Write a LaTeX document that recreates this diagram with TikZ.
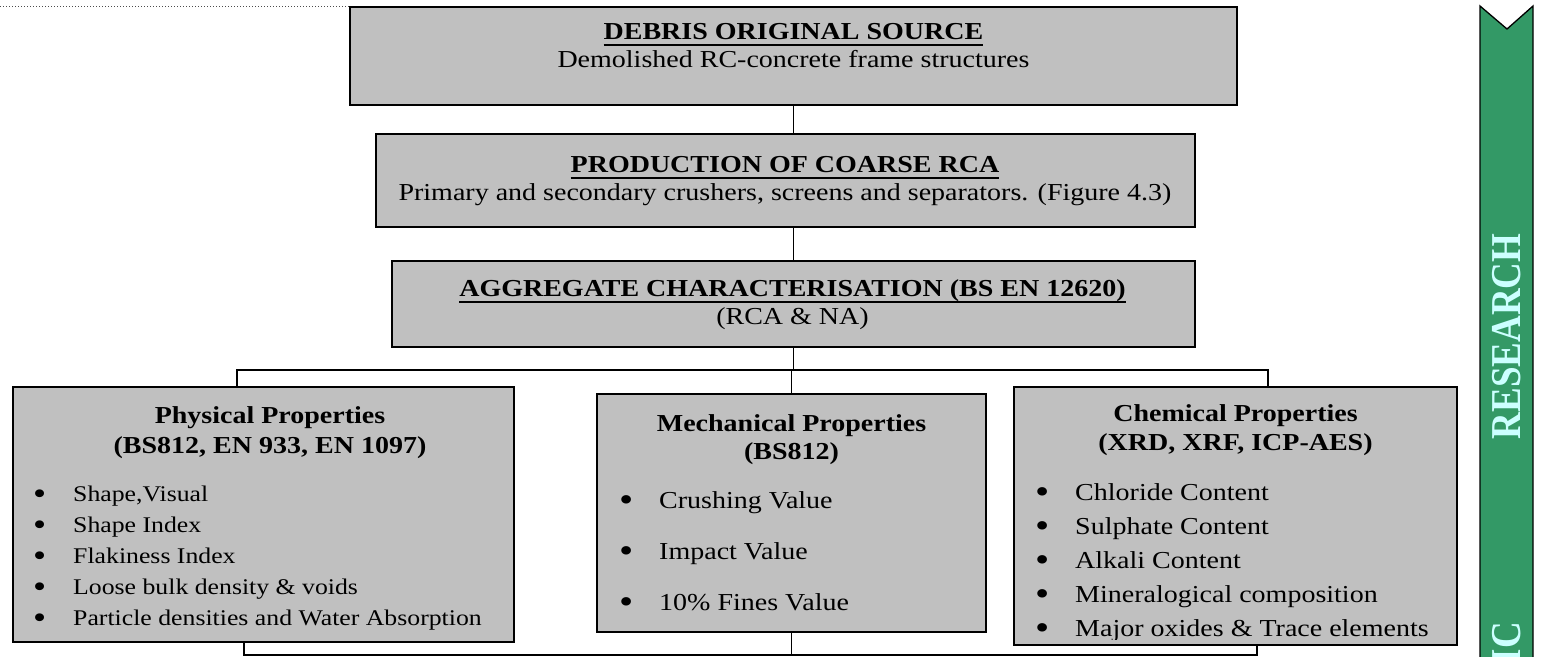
\documentclass[tikz,border=0pt]{standalone}
\usepackage{fontspec}
\setmainfont{Liberation Serif}[FakeStretch=1.15]
\newfontfamily\barfont{Liberation Serif}
\usetikzlibrary{positioning}

\definecolor{boxgray}{HTML}{C0C0C0}
\definecolor{seagreen}{HTML}{339966}
\definecolor{paleaqua}{HTML}{CCFFFF}

\newcommand{\ulbar}[1]{\setbox0\hbox{#1}\rlap{\rule[-7pt]{\wd0}{2pt}}\box0}
\newcommand{\bitem}[1]{\makebox[40pt][l]{\raisebox{-3pt}{\scalebox{1.45}{\textbullet}}}#1}

\begin{document}
\begin{tikzpicture}[x=1pt,y=-1pt,line join=miter]
  \tikzstyle{box}=[rectangle,draw=black,fill=boxgray,line width=1.8pt,inner sep=0pt]
  \tikzstyle{head}=[align=center,inner sep=0pt,anchor=base,font=\fontsize{24.35}{28}\selectfont]
  \tikzstyle{items}=[align=left,inner sep=0pt,anchor=base west]
  \tikzstyle{link}=[draw=black,line width=1.3pt]
  \tikzstyle{bartext}=[rotate=90,inner sep=0pt,text=paleaqua,font=\barfont\bfseries\fontsize{37}{37}\selectfont]

  \useasboundingbox (0,0) rectangle (1550,656);
  \clip (0,0) rectangle (1550,656);

  % main chain
  \node[box, minimum width=887pt, minimum height=98pt] (src)    at (793.5,56)   {};
  \node[box, minimum width=819pt, minimum height=93pt] (prod)   at (785.5,180.5) {};
  \node[box, minimum width=803pt, minimum height=86pt] (charac) at (793.5,304)  {};

  \node[head] (srctxt)    at (793.5,67)  {{\bfseries\ulbar{DEBRIS ORIGINAL SOURCE}}\\Demolished RC-concrete frame structures};
  \node[head] (prodtxt)   at (785,200)   {{\bfseries\ulbar{PRODUCTION OF COARSE RCA}}\\Primary and secondary crushers, screens and separators. (Figure 4.3)};
  \node[head] (charactxt) at (792.5,324) {{\bfseries\ulbar{AGGREGATE CHARACTERISATION (BS EN 12620)}}\\(RCA \& NA)};

  % property boxes
  \node[box, minimum width=501pt, minimum height=255pt] (phys) at (263.5,514.5) {};
  \node[box, minimum width=389pt, minimum height=238pt] (mech) at (791.5,513)   {};
  \node[box, minimum width=443pt, minimum height=258pt] (chem) at (1235.5,516)  {};

  \node[head, font=\bfseries\fontsize{24.35}{30}\selectfont] (phystitle) at (270,453)    {Physical Properties\\(BS812, EN 933, EN 1097)};
  \node[head, font=\bfseries\fontsize{24.35}{28}\selectfont] (mechtitle) at (791.5,459)  {Mechanical Properties\\(BS812)};
  \node[head, font=\bfseries\fontsize{24.35}{29}\selectfont] (chemtitle) at (1235.5,450) {Chemical Properties\\(XRD, XRF, ICP-AES)};

  \node[items, font=\fontsize{22.4}{31}\selectfont] (physlist) at (33,625)
    {\bitem{Shape,Visual}\\\bitem{Shape Index}\\\bitem{Flakiness Index}\\\bitem{Loose bulk density \& voids}\\\bitem{Particle densities and Water Absorption}};
  \node[items, font=\fontsize{24.35}{51}\selectfont] (mechlist) at (619,610)
    {\bitem{Crushing Value}\\\bitem{Impact Value}\\\bitem{10\% Fines Value}};
  \begin{scope}
    \clip (chem.north west) rectangle ([yshift=6pt]chem.south east);
    \node[items, font=\fontsize{24.35}{34}\selectfont] (chemlist) at (1035,636)
      {\bitem{Chloride Content}\\\bitem{Sulphate Content}\\\bitem{Alkali Content}\\\bitem{Mineralogical composition}\\\bitem{Major oxides \& Trace elements}};
  \end{scope}

  % connectors
  \coordinate (brL) at (237,370);
  \coordinate (brR) at (1268,370);
  \coordinate (dnL) at (244,655);
  \coordinate (dnR) at (1257,655);
  \coordinate (pageedge) at (0,6);

  \draw[link] (src.south) -- (src.south |- prod.north);
  \draw[link] (src.south |- prod.south) -- (src.south |- charac.north);
  \draw[link] (charac.south) -- (charac.south |- brL);
  \draw[link] (phys.north -| brL) -- (brL) -- (brR) -- (chem.north -| brR);
  \draw[link] (mech.north) -- (mech.north |- brL);
  \draw[link] (phys.south -| dnL) -- (dnL) -- (dnR) -- (chem.south -| dnR);
  \draw[link] (mech.south) -- (mech.south |- dnL);
  \draw[dotted, line width=1pt, black!70] (pageedge) -- (pageedge -| src.north west);

  % side banner
  \draw[fill=seagreen, line width=1.3pt] (1480,6) -- (1507,29) -- (1533,6) -- (1533,670) -- (1480,670) -- cycle;
  \node[bartext] (bartop) at (1507,336.5) {\scalebox{1}[1.15]{RESEARCH}};
  \node[bartext, anchor=east] (barbot) at (1507,622) {\scalebox{1}[1.15]{IC}};
\end{tikzpicture}
\end{document}
